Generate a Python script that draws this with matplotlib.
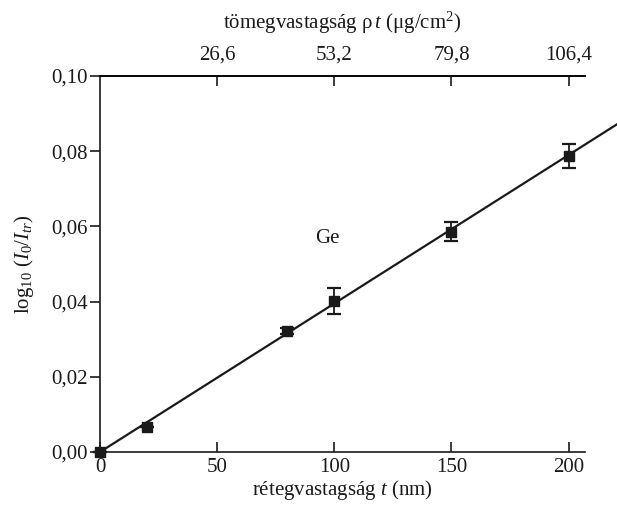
import matplotlib
matplotlib.use("Agg")
import matplotlib.pyplot as plt
import numpy as np

plt.rcParams['font.family'] = ['Liberation Serif', 'DejaVu Serif']
plt.rcParams['mathtext.fontset'] = 'custom'
plt.rcParams['mathtext.rm'] = 'Liberation Serif'
plt.rcParams['mathtext.it'] = 'Liberation Serif:italic'

# data
thickness = [0, 20, 80, 100, 150, 200]
absorb = [0.0, 0.0067, 0.0322, 0.0402, 0.0586, 0.0787]
err = [0.0, 0.0, 0.0008, 0.0034, 0.0025, 0.0033]
fit_slope = 0.000395
fit_x = [0, 221]
bottom_ticks = [0, 50, 100, 150, 200]
y_ticks = [0.00, 0.02, 0.04, 0.06, 0.08, 0.10]
y_labels = ["0,00", "0,02", "0,04", "0,06", "0,08", "0,10"]
top_tick_pos = [50, 100, 150, 200]
top_labels = ["26,6", "53,2", "79,8", "106,4"]

fig = plt.figure(figsize=(6.17, 5.13), dpi=100)
ax = fig.add_axes([100/617, 61/513, 485/617, 376/513])

fx = np.array(fit_x)
ax.plot(fx, fit_slope * fx, color='#1a1a1a', lw=1.6, clip_on=False, zorder=2)
ax.errorbar(thickness, absorb, yerr=err, fmt='s', color='#1a1a1a', ms=7.5,
            capsize=4.8, elinewidth=1.3, capthick=1.6, clip_on=False, zorder=3)

ax.set_xlim(0, 207)
ax.set_ylim(0, 0.10)
ax.set_xticks(bottom_ticks)
ax.set_yticks(y_ticks)
ax.set_yticklabels(y_labels)

for s in ['left', 'bottom', 'top']:
    ax.spines[s].set_linewidth(1.2)
    ax.spines[s].set_color('#1a1a1a')
ax.spines['right'].set_visible(False)

ax.tick_params(axis='y', direction='out', length=7, width=1.2, labelsize=15, pad=2, colors='#1a1a1a')
ax.tick_params(axis='x', direction='in', length=7, width=1.2, labelsize=15, pad=4, colors='#1a1a1a')

ax.set_xlabel("rétegvastagság $\\mathit{t}$ (nm)", fontsize=15, labelpad=1, color='#1a1a1a')
ax.set_ylabel("log$_{10}$ ($\\mathit{I}_0$/$\\mathit{I}_{tr}$)", fontsize=15, labelpad=11, color='#1a1a1a')

top = ax.twiny()
top.set_xlim(ax.get_xlim())
top.set_xticks(top_tick_pos)
top.set_xticklabels(top_labels)
top.spines['right'].set_visible(False)
top.spines['left'].set_visible(False)
top.spines['bottom'].set_visible(False)
top.spines['top'].set_linewidth(1.2)
top.tick_params(axis='x', direction='in', length=7, width=1.2, labelsize=15, pad=8, colors='#1a1a1a')
top.set_xlabel("tömegvastagság ρ$\\,\\mathit{t}$ (μg/cm$^{2}$)", fontsize=15, labelpad=12, color='#1a1a1a')

ax.text(97, 0.0568, "Ge", fontsize=15, ha='center', va='center', color='#1a1a1a')

fig.savefig("out.png", dpi=100)
